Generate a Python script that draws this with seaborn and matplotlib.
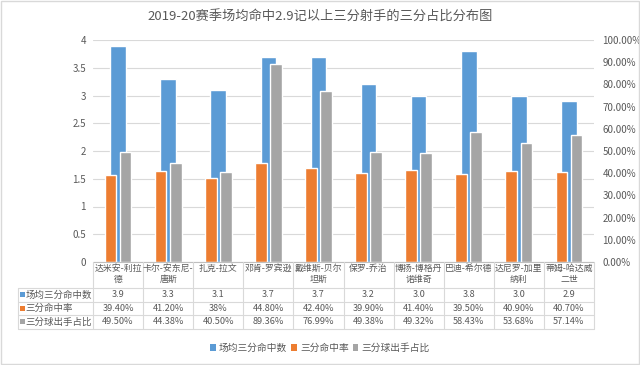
import matplotlib
matplotlib.use("Agg")
import matplotlib.pyplot as plt
import matplotlib.transforms as mtransforms
from matplotlib.patches import Rectangle
from matplotlib.lines import Line2D
import seaborn as sns
import pandas as pd

players = ["达米安-利拉德", "卡尔-安东尼-唐斯", "扎克-拉文", "邓肯-罗宾逊", "戴维斯-贝尔坦斯",
           "保罗-乔治", "博扬-博格丹诺维奇", "巴迪-希尔德", "达尼罗-加里纳利", "蒂姆-哈达威二世"]
player_labels = ["达米安-利拉\n德", "卡尔-安东尼-\n唐斯", "扎克-拉文", "邓肯-罗宾逊", "戴维斯-贝尔\n坦斯",
                 "保罗-乔治", "博扬-博格丹\n诺维奇", "巴迪-希尔德", "达尼罗-加里\n纳利", "蒂姆-哈达威\n二世"]
made_per_game = [3.9, 3.3, 3.1, 3.7, 3.7, 3.2, 3.0, 3.8, 3.0, 2.9]
three_pct = [39.40, 41.20, 38.0, 44.80, 42.40, 39.90, 41.40, 39.50, 40.90, 40.70]
three_share = [49.50, 44.38, 40.50, 89.36, 76.99, 49.38, 49.32, 58.43, 53.68, 57.14]
made_text = ["3.9", "3.3", "3.1", "3.7", "3.7", "3.2", "3.0", "3.8", "3.0", "2.9"]
pct_text = ["39.40%", "41.20%", "38%", "44.80%", "42.40%", "39.90%", "41.40%", "39.50%", "40.90%", "40.70%"]
share_text = ["49.50%", "44.38%", "40.50%", "89.36%", "76.99%", "49.38%", "49.32%", "58.43%", "53.68%", "57.14%"]
series_names = ["场均三分命中数", "三分命中率", "三分球出手占比"]
title = "2019-20赛季场均命中2.9记以上三分射手的三分占比分布图"

BLUE, ORANGE, GRAY = "#5B9BD5", "#ED7D31", "#A5A5A5"
TXT = "#595959"
GRID = "#D9D9D9"

sns.set_theme(style="white")
plt.rcParams["font.family"] = ["Noto Sans CJK SC", "DejaVu Sans"]

W, H = 640, 365
fig = plt.figure(figsize=(W / 100, H / 100), dpi=100)

def fx(px):
    return px / W

def fy(py):
    return 1 - py / H

ax = fig.add_axes([fx(93), fy(262), fx(594) - fx(93), fy(40) - fy(262)])

df_blue = pd.DataFrame({"player": players, "v": made_per_game})
sns.barplot(data=df_blue, x="player", y="v", ax=ax, color=BLUE, width=0.31,
            saturation=1, errorbar=None, zorder=2)
ax.set_ylim(0, 4)
ax.set_xlim(-0.5, 9.5)
ax.set_yticks([0, 0.5, 1, 1.5, 2, 2.5, 3, 3.5, 4])
ax.set_yticklabels(["0", "0.5", "1", "1.5", "2", "2.5", "3", "3.5", "4"])
ax.yaxis.grid(True, color=GRID, linewidth=0.8, zorder=0)
ax.set_axisbelow(True)
ax.set_xticks([])
ax.set_xlabel("")
ax.set_ylabel("")
for s in ax.spines.values():
    s.set_visible(False)
ax.tick_params(axis="y", length=0, pad=5, labelsize=7, labelcolor=TXT)

ax2 = ax.twinx()
df2 = pd.DataFrame({
    "player": players * 2,
    "v": three_pct + three_share,
    "series": [series_names[1]] * 10 + [series_names[2]] * 10,
})
sns.barplot(data=df2, x="player", y="v", hue="series", ax=ax2,
            palette=[ORANGE, GRAY], width=0.6, gap=0.22, saturation=1,
            errorbar=None, legend=False, zorder=3)
ax2.set_ylim(0, 100)
ax2.set_xlim(-0.5, 9.5)
ax2.set_yticks(range(0, 101, 10))
ax2.set_yticklabels([f"{v:.2f}%" for v in range(0, 101, 10)])
ax2.set_xticks([])
ax2.set_xlabel("")
ax2.set_ylabel("")
for s in ax2.spines.values():
    s.set_visible(False)
ax2.tick_params(axis="y", length=0, pad=6, labelsize=7, labelcolor=TXT)

# Data table below the plot
tr = mtransforms.blended_transform_factory(ax.transData, fig.transFigure)
ftr = fig.transFigure
line_kw = dict(color=GRID, linewidth=0.8)

y_top, y_h, y1, y2, y3 = 262, 288, 301.5, 315, 328.5
fig.add_artist(Line2D([-0.5, 9.5], [fy(y_top), fy(y_top)], transform=tr, color="#BFBFBF", linewidth=0.8))
for yy in (y_h, y1, y2, y3):
    fig.add_artist(Line2D([fx(17.5), fx(594)], [fy(yy), fy(yy)], transform=ftr, **line_kw))
fig.add_artist(Line2D([fx(17.5), fx(17.5)], [fy(y_h), fy(y3)], transform=ftr, **line_kw))
for i in range(11):
    xb = i - 0.5
    fig.add_artist(Line2D([xb, xb], [fy(y_top), fy(y3)], transform=tr, **line_kw))

for i, lab in enumerate(player_labels):
    fig.text(i, fy(264), lab, transform=tr, ha="center", va="top", fontsize=6.4,
             color=TXT, linespacing=1.3)

rows = [made_text, pct_text, share_text]
colors = [BLUE, ORANGE, GRAY]
row_tops = [y_h, y1, y2]
row_bots = [y1, y2, y3]
for r in range(3):
    yc = (row_tops[r] + row_bots[r]) / 2
    fig.add_artist(Rectangle((fx(20), fy(yc + 2.3)), fx(4.6), 4.6 / H, transform=ftr,
                             facecolor=colors[r], edgecolor="none"))
    fig.text(fx(25.5), fy(yc), series_names[r], transform=ftr, ha="left", va="center",
             fontsize=6.8, color=TXT)
    for i, t in enumerate(rows[r]):
        fig.text(i, fy(yc), t, transform=tr, ha="center", va="center", fontsize=6.6, color=TXT)

# Legend
handles = [Rectangle((0, 0), 1, 1, facecolor=c, edgecolor="none") for c in colors]
fig.legend(handles, series_names, loc="center", bbox_to_anchor=(fx(320), fy(348)),
           ncol=3, frameon=False, fontsize=7, labelcolor=TXT, handlelength=0.6,
           handleheight=0.6, handletextpad=0.3, columnspacing=0.4)

fig.suptitle(title, x=fx(320), y=fy(17), va="center", fontsize=9.5, color=TXT)

# Chart border
fig.add_artist(Rectangle((fx(0.5), fy(363.5)), fx(638), 363 / H, transform=ftr,
                         facecolor="none", edgecolor=GRID, linewidth=1))

fig.savefig("out.png", dpi=100, facecolor="white")
